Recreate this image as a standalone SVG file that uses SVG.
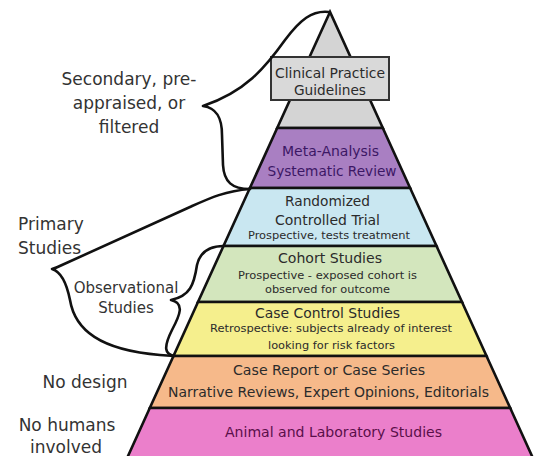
<svg xmlns="http://www.w3.org/2000/svg" width="537" height="456" viewBox="0 0 537 456">
<style>
.layer{stroke:#111;stroke-width:2.6;stroke-linejoin:miter}
.t{font-family:"DejaVu Sans","Liberation Sans",sans-serif;text-anchor:middle;fill:#2b2b2b}
.big{font-size:14px}
.small{font-size:10.5px}
.lab{font-family:"DejaVu Sans","Liberation Sans",sans-serif;font-size:17px;fill:#333}
.brace{fill:none;stroke:#111;stroke-width:2.6;stroke-linecap:round;stroke-linejoin:round}
</style>
<rect width="537" height="456" fill="#fff"/>
<g id="layer-guidelines">
<polygon class="layer" points="330,12 277.2,128 382.8,128" fill="#d4d4d4"/>
<rect x="271" y="57" width="118" height="43" fill="#d9d9d9" stroke="#333" stroke-width="2"/>
<text class="t big" x="330" y="78" textLength="110" lengthAdjust="spacingAndGlyphs">Clinical Practice</text>
<text class="t big" x="330" y="95" textLength="72" lengthAdjust="spacingAndGlyphs">Guidelines</text>
</g>
<g id="layer-meta">
<polygon class="layer" points="277.2,128 382.8,128 410.1,188 249.9,188" fill="#a97fc2"/>
<text class="t big" x="330.5" y="156" style="fill:#3c1765" textLength="97" lengthAdjust="spacingAndGlyphs">Meta-Analysis</text>
<text class="t big" x="332" y="176" style="fill:#3c1765" textLength="129" lengthAdjust="spacingAndGlyphs">Systematic Review</text>
</g>
<g id="layer-rct">
<polygon class="layer" points="249.9,188 410.1,188 436.5,246 223.5,246" fill="#c9e7f1"/>
<text class="t big" x="327.5" y="206" textLength="85" lengthAdjust="spacingAndGlyphs">Randomized</text>
<text class="t big" x="327.5" y="225" textLength="105" lengthAdjust="spacingAndGlyphs">Controlled Trial</text>
<text class="t small" x="329" y="239" textLength="162" lengthAdjust="spacingAndGlyphs">Prospective, tests treatment</text>
</g>
<g id="layer-cohort">
<polygon class="layer" points="223.5,246 436.5,246 462,302 198,302" fill="#d3e6bd"/>
<text class="t big" x="330" y="263" textLength="104" lengthAdjust="spacingAndGlyphs">Cohort Studies</text>
<text class="t small" x="327.5" y="279" textLength="179" lengthAdjust="spacingAndGlyphs">Prospective - exposed cohort is</text>
<text class="t small" x="327.5" y="293" textLength="125" lengthAdjust="spacingAndGlyphs">observed for outcome</text>
</g>
<g id="layer-casecontrol">
<polygon class="layer" points="198,302 462,302 486.5,356 173.5,356" fill="#f5ef8d"/>
<text class="t big" x="327.5" y="318" textLength="145" lengthAdjust="spacingAndGlyphs">Case Control Studies</text>
<text class="t small" x="331" y="332" textLength="242" lengthAdjust="spacingAndGlyphs">Retrospective: subjects already of interest</text>
<text class="t small" x="331.5" y="349" textLength="127" lengthAdjust="spacingAndGlyphs">looking for risk factors</text>
</g>
<g id="layer-casereport">
<polygon class="layer" points="173.5,356 486.5,356 510.2,408 149.8,408" fill="#f6b98a"/>
<text class="t big" x="329" y="375" textLength="192" lengthAdjust="spacingAndGlyphs">Case Report or Case Series</text>
<text class="t big" x="328.5" y="397" textLength="321" lengthAdjust="spacingAndGlyphs">Narrative Reviews, Expert Opinions, Editorials</text>
</g>
<g id="layer-animal">
<polygon class="layer" points="149.8,408 510.2,408 534.7,462 125.3,462" fill="#eb7fcb"/>
<text class="t big" x="333.5" y="437" style="fill:#5a0f4a" textLength="217" lengthAdjust="spacingAndGlyphs">Animal and Laboratory Studies</text>
</g>
<g id="connectors">
<path class="brace" d="M 329 12 C 312 10, 300 20, 285 40 C 265 68, 245 92, 203 106 C 217 108, 222 118, 222 135 L 223 165 C 224 182, 232 189, 250 189"/>
<path class="brace" d="M 250 189 C 225 191, 210 198, 190 207 L 62 265 C 58 267, 56 268, 52 269 C 62 272, 67 285, 70 300 C 75 330, 100 350, 160 355 L 174 356"/>
<path class="brace" d="M 224 246 C 210 246, 200 252, 197 265 C 194 285, 190 296, 171 300 C 185 303, 180 315, 172 330 C 163 348, 165 354, 174 356"/>
</g>
<g id="labels">
<text class="lab" x="129" y="85" text-anchor="middle">Secondary, pre-</text>
<text class="lab" x="129" y="109" text-anchor="middle">appraised, or</text>
<text class="lab" x="129" y="133" text-anchor="middle">filtered</text>
<text class="lab" x="18" y="230">Primary</text>
<text class="lab" x="18" y="254">Studies</text>
<text class="lab" x="126" y="293" text-anchor="middle" style="font-size:15px">Observational</text>
<text class="lab" x="126" y="313" text-anchor="middle" style="font-size:15px">Studies</text>
<text class="lab" x="85" y="388" text-anchor="middle">No design</text>
<text class="lab" x="67" y="431" text-anchor="middle">No humans</text>
<text class="lab" x="66" y="453" text-anchor="middle">involved</text>
</g>
</svg>
